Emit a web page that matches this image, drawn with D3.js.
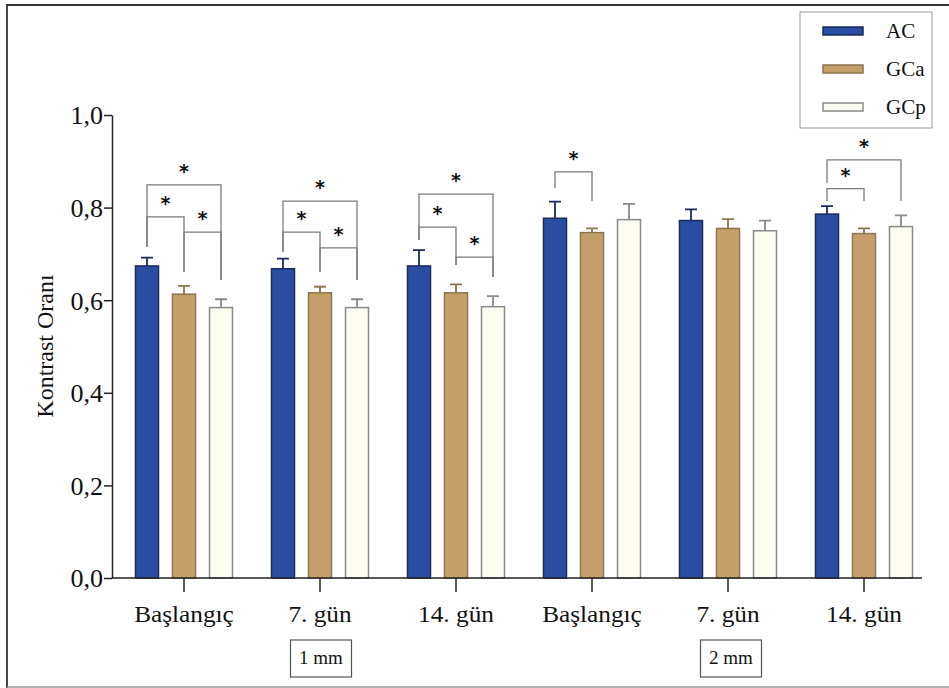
<!DOCTYPE html>
<html><head><meta charset="utf-8">
<script src="https://cdn.jsdelivr.net/npm/d3@7"></script>
<style>body{margin:0;background:#fff}svg{display:block}</style>
</head><body>
<svg id="c" width="949" height="688"></svg>
<script>
// ---- data ----
const categories = ["Başlangıç","7. gün","14. gün","Başlangıç","7. gün","14. gün"];
const seriesNames = ["AC","GCa","GCp"];
const AC     = [0.674,0.668,0.674,0.777,0.772,0.786];
const AC_err = [0.018,0.022,0.034,0.036,0.024,0.017];
const GCa     = [0.613,0.616,0.616,0.746,0.755,0.744];
const GCa_err = [0.018,0.013,0.018,0.009,0.020,0.011];
const GCp     = [0.584,0.584,0.586,0.774,0.750,0.759];
const GCp_err = [0.018,0.018,0.023,0.034,0.022,0.024];
const yTicks = [0,0.2,0.4,0.6,0.8,1.0];
const groupLabels = ["1 mm","2 mm"];
// significance brackets: [group, fromSeries, toSeries, topValue, leftFootValue, rightFootValue]
const brackets = [
  [0,0,2,0.849,0.715,0.644],[0,0,1,0.780,0.715,0.661],[0,1,2,0.747,0.661,0.644],
  [1,0,2,0.814,0.704,0.644],[1,0,1,0.747,0.704,0.661],[1,1,2,0.713,0.661,0.644],
  [2,0,2,0.829,0.730,0.650],[2,0,1,0.758,0.730,0.676],[2,1,2,0.693,0.676,0.650],
  [3,0,1,0.877,0.842,0.814],
  [5,0,2,0.903,0.853,0.814],[5,0,1,0.841,0.814,0.814]
];

const values = [AC,GCa,GCp], errs=[AC_err,GCa_err,GCp_err];
const fills = ["#2a4fa2","#c49f6a","#fdfcf1"];
const strokes = ["#1a2a5c","#8c7650","#8a8a8a"];
const serif = "'Liberation Serif','Times New Roman',serif";

const svg = d3.select("#c");
// outer frame
svg.append("path").attr("d","M7,688V5H949").attr("fill","none").attr("stroke","#333").attr("stroke-width",1.8);
svg.append("path").attr("d","M7,687H949").attr("fill","none").attr("stroke","#999").attr("stroke-width",1.5);

const y = d3.scaleLinear().domain([0,1]).range([578,115]);
const x0 = d3.scaleBand().domain(d3.range(categories.length)).range([116,932]);
const x1 = d3.scalePoint().domain(d3.range(3)).range([-37,37]);
const bw = 23;
const cx = (g,s)=> x0(g)+x0.bandwidth()/2 + x1(s);

// y axis
const yAxis = d3.axisLeft(y).tickValues(yTicks).tickSize(8).tickSizeOuter(0)
  .tickFormat(d=>d3.format(".1f")(d).replace(".",","));
const ya = svg.append("g").attr("transform","translate(112,0)").call(yAxis);
ya.select(".domain").attr("stroke","#222").attr("stroke-width",1.5);
ya.selectAll(".tick line").attr("stroke","#222").attr("stroke-width",1.5);
ya.selectAll(".tick text").attr("font-family",serif).attr("font-size",26).attr("fill","#111")
  .attr("x",-9).attr("dy","0.34em");

svg.append("text").attr("transform","translate(53,346) rotate(-90)")
  .attr("text-anchor","middle").attr("font-family",serif).attr("font-size",24).attr("fill","#111")
  .text("Kontrast Oranı");

// bars
seriesNames.forEach((s,si)=>{
  const g = svg.append("g");
  g.selectAll("rect").data(values[si]).join("rect")
    .attr("x",(d,i)=>cx(i,si)-bw/2).attr("width",bw)
    .attr("y",d=>y(d)).attr("height",d=>y(0)-y(d))
    .attr("fill",fills[si]).attr("stroke",strokes[si]).attr("stroke-width",1.5);
  // error bars (upper only)
  g.selectAll("path.err").data(values[si]).join("path").attr("class","err")
    .attr("d",(d,i)=>{const xc=cx(i,si), yt=y(d+errs[si][i]);
      return `M${xc},${y(d)}V${yt}M${xc-6},${yt}H${xc+6}`;})
    .attr("stroke",strokes[si]).attr("stroke-width",1.8).attr("fill","none");
});

// x axis
const xa = svg.append("g").attr("transform","translate(0,578)");
xa.append("line").attr("x1",112).attr("x2",922).attr("stroke","#222").attr("stroke-width",1.5);
xa.selectAll("line.t").data(categories).join("line").attr("class","t")
  .attr("x1",(d,i)=>cx(i,1)).attr("x2",(d,i)=>cx(i,1)).attr("y1",0).attr("y2",14)
  .attr("stroke","#222").attr("stroke-width",1.5);
xa.selectAll("text").data(categories).join("text")
  .attr("transform",(d,i)=>`translate(${cx(i,1)},44) scale(1.1,1)`).attr("text-anchor","middle")
  .attr("font-family",serif).attr("font-size",23).attr("fill","#111").text(d=>d);

// group label boxes
groupLabels.forEach((t,k)=>{
  const xc = cx(k*3+1,1) + (k===0?1:3);
  const g = svg.append("g");
  g.append("rect").attr("x",xc-30.5).attr("y",640).attr("width",61).attr("height",37)
    .attr("fill","#fff").attr("stroke","#555").attr("stroke-width",1.2);
  g.append("text").attr("x",xc).attr("y",664).attr("text-anchor","middle")
    .attr("font-family",serif).attr("font-size",19).attr("fill","#111").text(t);
});

// significance brackets
const bg = svg.append("g");
brackets.forEach(([gi,a,b,top,lf,rf])=>{
  const xa_=cx(gi,a), xb=cx(gi,b), yt=y(top);
  bg.append("path").attr("d",`M${xa_},${y(lf)}V${yt}H${xb}V${y(rf)}`)
    .attr("fill","none").attr("stroke","#7a7a7a").attr("stroke-width",1.3);
  bg.append("text").attr("x",(xa_+xb)/2).attr("y",yt-7).attr("text-anchor","middle")
    .attr("font-family","'DejaVu Sans',sans-serif").attr("font-weight","bold")
    .attr("font-size",19).attr("fill","#111").text("*");
});

// legend
const lg = svg.append("g");
lg.append("rect").attr("x",800).attr("y",12).attr("width",132).attr("height",116)
  .attr("fill","#fff").attr("stroke","#999").attr("stroke-width",1);
seriesNames.forEach((s,i)=>{
  const yy = 31 + i*38;
  lg.append("rect").attr("x",823).attr("y",yy-4).attr("width",40).attr("height",8)
    .attr("fill",fills[i]).attr("stroke",strokes[i]).attr("stroke-width",1.5);
  lg.append("text").attr("x",886).attr("y",yy+7).attr("font-family",serif)
    .attr("font-size",21).attr("fill","#111").text(s);
});
</script>
</body></html>
